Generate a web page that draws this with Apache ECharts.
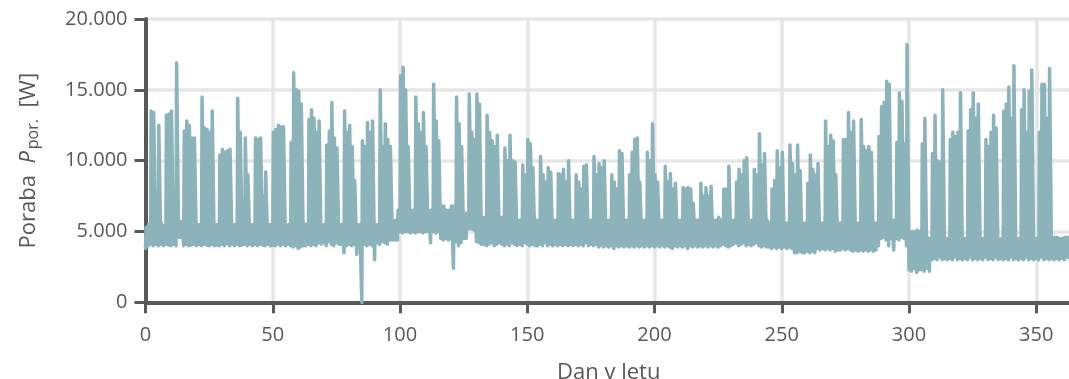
<!DOCTYPE html>
<html>
<head>
<meta charset="utf-8">
<script src="https://cdn.jsdelivr.net/npm/echarts@6/dist/echarts.min.js"></script>
<style>
  html, body { margin: 0; padding: 0; background: #fff; }
  #chart { width: 1069px; height: 379px; }
</style>
</head>
<body>
<div id="chart"></div>
<script>
// Daily peak consumption [W], one row per week (Sunday..Saturday), day 0 = 1 January
const dayPeak = [
  5300, 5500, 13500, 13400, 6000, 12500, 5600,
  5400, 13200, 13300, 13500, 6200, 16900, 5600,
  5700, 12100, 12800, 12500, 11600, 11600, 5500,
  5500, 14500, 12300, 12200, 12000, 13500, 5500,
  5500, 10400, 10800, 10600, 10700, 10800, 5500,
  5500, 14400, 12000, 6000, 11600, 9000, 5500,
  5500, 11600, 11500, 11600, 7500, 9200, 5500,
  5500, 12000, 12200, 12500, 12400, 12400, 5500,
  5500, 11300, 16200, 15000, 14900, 14000, 5600,
  5500, 12900, 13600, 13000, 12000, 12800, 5500,
  5500, 11100, 12100, 14100, 11600, 10900, 5500,
  5500, 13500, 12000, 12500, 11000, 8600, 5500,
  5500, 11400, 11000, 12700, 12000, 12800, 5500,
  5500, 15000, 11000, 12600, 11500, 11000, 5500,
  5800, 6500, 16000, 16600, 15000, 11000, 6500,
  6500, 14500, 12600, 12000, 13400, 11000, 6500,
  6500, 15400, 12800, 11400, 6800, 6800, 6500,
  6500, 6800, 6800, 14500, 12600, 11000, 6300,
  6300, 14700, 12000, 11500, 14700, 14000, 6000,
  6000, 13200, 12000, 11400, 11000, 11800, 6000,
  6000, 10900, 10000, 11800, 10000, 9900, 5800,
  5800, 9700, 9000, 11500, 11200, 9500, 5800,
  5800, 10300, 9000, 8500, 9500, 9200, 5800,
  5800, 9100, 9000, 9400, 8500, 10000, 5800,
  5800, 9000, 8500, 8000, 9600, 9700, 5800,
  5800, 10300, 9000, 9800, 9500, 10000, 5800,
  5800, 9000, 8500, 8000, 10700, 10500, 5800,
  5800, 9000, 10600, 11500, 11600, 8500, 5800,
  5800, 10600, 10000, 12600, 9000, 8500, 5800,
  5800, 9600, 8500, 9100, 8000, 8400, 5800,
  5800, 8100, 8000, 8100, 8000, 7000, 5800,
  5800, 8400, 7500, 8100, 7500, 8200, 5800,
  5800, 6000, 5800, 8000, 8000, 9600, 5800,
  5800, 8500, 9400, 9000, 10000, 10200, 5800,
  5800, 9400, 9000, 11900, 9700, 10500, 5800,
  5600, 8000, 8600, 10700, 9500, 10600, 5600,
  5600, 11100, 9800, 9000, 11100, 9300, 5600,
  5600, 8400, 10400, 9400, 9000, 9800, 5600,
  5600, 12800, 11000, 11800, 11400, 9000, 5600,
  5600, 11500, 11500, 13400, 12000, 12800, 5600,
  5600, 12900, 11000, 10700, 11000, 10600, 5600,
  5600, 11700, 13800, 14100, 15600, 15400, 5800,
  5800, 11300, 14800, 14200, 11200, 18200, 5000,
  5000, 5000, 5100, 5000, 11200, 13000, 4600,
  4500, 10500, 13200, 10000, 9900, 15000, 4500,
  4500, 11500, 12000, 11700, 12000, 14800, 4500,
  4500, 12100, 13600, 14800, 13000, 14000, 4500,
  4500, 11500, 11000, 12000, 13200, 12300, 4500,
  4500, 13500, 14000, 15200, 13000, 16700, 4500,
  4500, 13600, 15000, 12000, 14900, 16400, 4500,
  4500, 12000, 15400, 15400, 13000, 16500, 4500,
  4600, 4600, 4500, 4500, 4600, 4600, 4500
];

// Night-time minimum consumption [W], same layout
const nightLow = [
  3800, 4000, 4100, 4000, 4100, 4000, 4100,
  4000, 4100, 4050, 4000, 4100, 4000, 4600,
  4600, 4000, 4100, 4000, 4050, 4100, 4000,
  4100, 4000, 4100, 4050, 4000, 4100, 4000,
  4050, 4000, 4100, 4000, 4150, 4000, 4100,
  4000, 4100, 4000, 4050, 4100, 4000, 4100,
  4000, 4100, 4000, 4100, 4050, 4000, 4100,
  4000, 4050, 4000, 4100, 4000, 4100, 4000,
  4100, 4000, 3900, 4000, 3800, 3900, 4000,
  4000, 4100, 4000, 4100, 4000, 4200, 4100,
  4200, 4000, 4300, 4100, 4000, 4200, 4100,
  4100, 3500, 4000, 4100, 4000, 4100, 3400,
  4000, 0, 4100, 4000, 4100, 4000, 3000,
  4200, 4100, 4300, 4200, 4100, 4400, 4400,
  4400, 4400, 5000, 4900, 5000, 5000, 4900,
  5000, 4900, 5000, 5000, 4900, 5000, 5000,
  4200, 5000, 4900, 5000, 4500, 4400, 4500,
  4400, 4500, 2400, 4300, 4000, 4200, 4500,
  4500, 5200, 5200, 5100, 4300, 4200, 4100,
  4100, 4000, 4100, 4200, 4000, 4100, 4200,
  4100, 4000, 4100, 4000, 4200, 4100, 4000,
  4100, 4000, 4200, 4100, 4000, 4100, 4000,
  4000, 4100, 4000, 4200, 4000, 4100, 4000,
  4100, 4000, 4100, 4000, 4100, 4000, 4100,
  4000, 4100, 4000, 4100, 4000, 4200, 4000,
  4100, 4000, 4100, 3900, 4000, 3900, 4000,
  3900, 4000, 3800, 4000, 3900, 4000, 3900,
  4000, 3900, 4000, 3900, 4000, 3900, 4000,
  3900, 4000, 3900, 4000, 3900, 4000, 3900,
  4000, 3900, 4000, 3900, 3800, 4000, 3900,
  4000, 3900, 4000, 3800, 4000, 3900, 4000,
  3900, 4000, 3900, 4000, 3900, 4000, 3900,
  4000, 3900, 4000, 4100, 4000, 3900, 4000,
  4100, 4200, 4000, 4100, 4200, 4000, 4100,
  4000, 4100, 4200, 4000, 3900, 4000, 3900,
  3900, 3800, 3900, 3800, 3900, 3800, 3900,
  3800, 3900, 3800, 3500, 3500, 3600, 3500,
  3500, 3600, 3500, 3600, 3500, 3800, 3700,
  3800, 3700, 3800, 3700, 3800, 3600, 3700,
  3700, 3800, 3700, 3800, 3700, 3600, 3700,
  3600, 3700, 3600, 3700, 3600, 3700, 3600,
  3700, 4000, 4500, 4600, 4400, 4000, 4500,
  3700, 4500, 4400, 4600, 4500, 4000, 2300,
  2200, 2400, 2100, 2300, 2300, 2200, 2400,
  2200, 3000, 3100, 3000, 3200, 3000, 3100,
  3000, 3100, 3000, 3200, 3000, 3100, 3000,
  3100, 3000, 3200, 3000, 3100, 3000, 3100,
  3000, 3200, 3000, 3100, 3000, 3200, 3000,
  3100, 3000, 3100, 3000, 3200, 3000, 3100,
  3000, 3100, 3000, 3200, 3000, 3100, 3000,
  3100, 3000, 3200, 3000, 3100, 3000, 3100,
  3000, 3100, 3000, 3100, 3000, 3200, 3100
];

const xTicks = [0, 50, 100, 150, 200, 250, 300, 350];
const yTicks = [0, 5000, 10000, 15000, 20000];

// Each day: night minimum at midnight, then the daytime plateau
const load = [];
for (let d = 0; d < dayPeak.length; d++) {
  load.push([d, nightLow[d]], [d + 0.22, dayPeak[d]], [d + 0.78, dayPeak[d]]);
}

const FONT = '"Open Sans", "Noto Sans", sans-serif';
const TXT = '#595959';
const AXIS = '#595959';
const GRID = '#e6e6e6';

const fmtThousands = v => String(v).replace(/\B(?=(\d{3})+(?!\d))/g, '.');

const chart = echarts.init(document.getElementById('chart'), null, { renderer: 'canvas' });
chart.setOption({
  animation: false,
  backgroundColor: '#fff',
  grid: {
    left: 145.5, top: 19, width: 926.4, height: 283.3,
    containLabel: false, outerBoundsMode: 'none'
  },
  xAxis: {
    type: 'value',
    min: xTicks[0],
    max: 364,
    interval: xTicks[1] - xTicks[0],
    name: 'Dan v letu',
    nameLocation: 'middle',
    nameGap: 59,
    nameTextStyle: { fontFamily: FONT, fontSize: 22, color: TXT },
    axisLine: { show: true, onZero: true, lineStyle: { color: AXIS, width: 4 } },
    axisTick: { show: true, length: 11, lineStyle: { color: AXIS, width: 3 } },
    axisLabel: {
      show: true, margin: 23, fontFamily: FONT, fontSize: 20, color: TXT,
      showMaxLabel: false,
      formatter: v => (xTicks.includes(v) ? String(v) : '')
    },
    splitLine: { show: true, lineStyle: { color: GRID, width: 3.5 } }
  },
  yAxis: {
    type: 'value',
    min: yTicks[0],
    max: yTicks[yTicks.length - 1],
    interval: yTicks[1] - yTicks[0],
    name: '{a|Poraba  }{i|P}{s|por.}{a|  [W]}',
    nameLocation: 'middle',
    nameRotate: 90,
    nameGap: 104,
    nameTextStyle: {
      fontFamily: FONT, fontSize: 22, color: TXT,
      rich: {
        a: { fontFamily: FONT, fontSize: 22, color: TXT, lineHeight: 24, verticalAlign: 'top' },
        i: { fontFamily: FONT, fontSize: 22, color: TXT, fontStyle: 'italic', lineHeight: 24, verticalAlign: 'top' },
        s: { fontFamily: FONT, fontSize: 16, color: TXT, lineHeight: 18, padding: [14, 0, 0, 2], verticalAlign: 'bottom' }
      }
    },
    axisLine: { show: true, lineStyle: { color: AXIS, width: 4 } },
    axisTick: { show: true, length: 11, lineStyle: { color: AXIS, width: 3 } },
    axisLabel: { show: true, margin: 18, fontFamily: FONT, fontSize: 20, color: TXT, formatter: fmtThousands },
    splitLine: { show: true, lineStyle: { color: GRID, width: 3.5 } }
  },
  series: [{
    type: 'line',
    data: load,
    showSymbol: false,
    symbol: 'none',
    sampling: null,
    clip: true,
    lineStyle: { color: '#8cb3b9', width: 3.5, cap: 'round', join: 'round' },
    z: 3
  }]
});
</script>
</body>
</html>
